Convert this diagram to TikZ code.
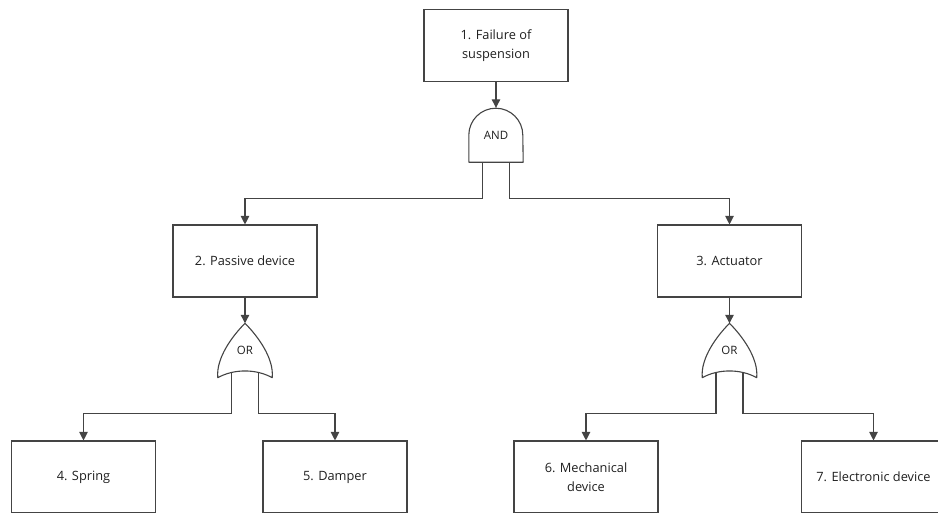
\documentclass[tikz,border=0pt]{standalone}
\usepackage{fontspec}
\setmainfont{Open Sans}
\usetikzlibrary{arrows.meta}
\definecolor{ink}{HTML}{444444}
\tikzset{
  event/.style={draw=ink, line width=1.1pt, minimum width=144pt, minimum height=72pt,
    inner sep=0pt, align=center, font=\fontsize{12.8}{18.5}\selectfont, text=black!88},
  gate/.style={minimum width=54pt, minimum height=54pt, inner sep=0pt,
    font=\fontsize{11.5}{13}\selectfont, text=black!88},
  gateline/.style={draw=ink, line width=1.1pt, fill=white, line join=round},
  link/.style={draw=ink, line width=1.1pt, -{Triangle[width=8.5pt,length=8.5pt]}},
}
\begin{document}
\begin{tikzpicture}[x=1pt, y=-1pt]
\useasboundingbox (0,0) rectangle (938,512);
\clip (0,0) rectangle (938,512);

% events
\node[event] (e1) at (496,45.5) {1. Failure of\\suspension};
\node[event] (e2) at (245,261) {2. Passive device};
\node[event] (e3) at (729.5,261) {3. Actuator};
\node[event] (e4) at (83.5,477) {4. Spring};
\node[event] (e5) at (335,477) {5. Damper};
\node[event] (e6) at (586,477) {6. Mechanical\\device};
\node[event] (e7) at (873.5,477) {7. Electronic device};

% AND gate
\node[gate] (g1) at (496,135) {};
\draw[gateline] (g1.south west) -- ([yshift=27pt]g1.south west)
  arc[start angle=180, end angle=0, radius=27pt] -- (g1.south east) -- cycle;
\node[gate] at (g1) {AND};

% OR gates
\foreach \g/\x in {g2/245, g3/729.5}{
  \node[gate] (\g) at (\x,350.5) {};
  \draw[gateline] (\g.north) .. controls ([xshift=-12pt,yshift=-12pt]\g.north)
      and ([xshift=-2pt,yshift=20pt]\g.south west) .. (\g.south west)
    .. controls ([xshift=16pt,yshift=9pt]\g.south west)
      and ([xshift=-16pt,yshift=9pt]\g.south east) .. (\g.south east)
    .. controls ([xshift=2pt,yshift=20pt]\g.south east)
      and ([xshift=12pt,yshift=-12pt]\g.north) .. (\g.north);
  \node[gate] at (\g) {OR};
}

% connectors
\draw[link] (e1) -- (g1.north);
\draw[link] ([xshift=-13.5pt]g1.south) -- ++(0,36) -| (e2.north);
\draw[link] ([xshift=13.5pt]g1.south) -- ++(0,36) -| (e3.north);
\draw[link] (e2) -- (g2.north);
\draw[link] (e3) -- (g3.north);
\draw[link] ([xshift=-13.5pt,yshift=5pt]g2.south) -- ++(0,41) -| (e4.north);
\draw[link] ([xshift=13.5pt,yshift=5pt]g2.south) -- ++(0,41) -| (e5.north);
\draw[link] ([xshift=-13.5pt,yshift=5pt]g3.south) -- ++(0,41) -| (e6.north);
\draw[link] ([xshift=13.5pt,yshift=5pt]g3.south) -- ++(0,41) -| (e7.north);
\end{tikzpicture}
\end{document}
